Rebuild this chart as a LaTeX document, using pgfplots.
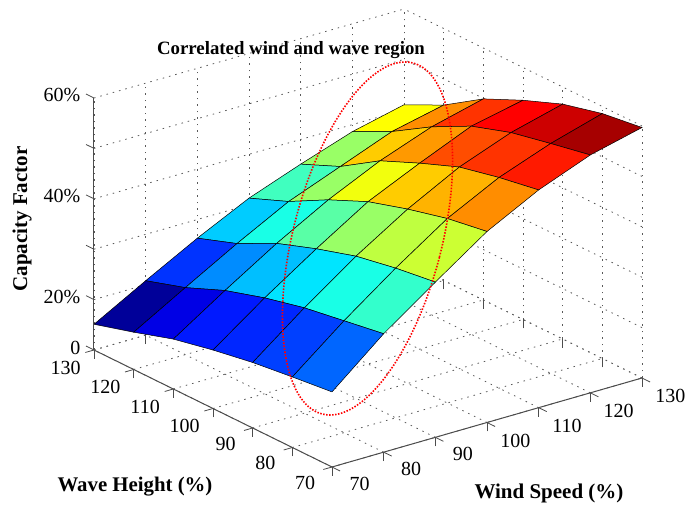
\documentclass[border=0pt]{standalone}
\usepackage{pgfplots}
\pgfplotsset{compat=1.18}
\usepackage{pgfplotstable}
\usepackage{fontspec}
\setmainfont{Liberation Serif}
\pgfplotstableread{
x y z c
70 70 24.9 1.8
80 70 33.5 3.4
90 70 40.8 4.6
100 70 47.9 5.9
110 70 53.2 6.8
120 70 57.2 7.7
130 70 59.7 8

70 80 24.0 1.5
80 80 32.2 3.2
90 80 39.7 4.5
100 80 46.6 5.6
110 80 51.8 6.6
120 80 55.6 7.4
130 80 58.6 8

70 90 23.0 1.3
80 90 30.9 2.8
90 90 38.2 4.2
100 90 44.6 5.4
110 90 50.0 6.4
120 90 53.9 7.0
130 90 56.6 8

70 100 21.6 1.2
80 100 29.0 2.5
90 100 35.8 3.7
100 100 42.2 4.9
110 100 46.9 5.8
120 100 51.3 6.6
130 100 53.5 8

70 110 19.9 0.8
80 110 26.6 2.1
90 110 33.0 3.2
100 110 38.7 4.2
110 110 43.5 5.4
120 110 47.3 5.9
130 110 49.9 8

70 120 17.4 0.2
80 120 23.3 1.4
90 120 29.1 2.6
100 120 34.5 3.5
110 120 38.5 4.2
120 120 42.5 5.0
130 120 44.8 8

70 130 15.1 0
80 130 20.8 0
90 130 26.3 0
100 130 31.3 0
110 130 35.1 0
120 130 38.6 0
130 130 41.0 0
}\surfdata
\begin{document}
\begin{tikzpicture}[x=1pt,y=1pt]
\path[use as bounding box] (0,0) rectangle (688,508);
\begin{axis}[
  at={(94pt,41pt)},anchor=south west,
  x={(5.1667pt,1.4833pt)},y={(-3.9667pt,1.95pt)},z={(0pt,5.04pt)},
  xmin=70,xmax=130,ymin=70,ymax=130,zmin=10,zmax=60,
  xtick={70,80,...,130},ytick={70,80,...,130},ztick={10,20,...,60},
  zticklabels={0,20\%,,40\%,,60\%},
  grid=major,
  3d box=background,
  major grid style={black!65,line width=0.8pt,dash pattern=on 1.5pt off 5pt},
  axis line style={draw=none},
  tick align=outside,
  xtick pos=left,ytick pos=left,ztick pos=left,
  major tick length=9pt,
  tick style={black!70,line width=0.8pt},
  ztick style={draw=none},
  tick label style={font=\fontsize{20}{22}\selectfont},
  xticklabel style={xshift=12pt,yshift=-1pt},
  yticklabel style={xshift=-9pt,yshift=-1pt},
  zticklabel style={xshift=-2pt,yshift=-3pt},
  /pgf/number format/assume math mode=true,
  clip=false,
  colormap={jetm}{rgb=(0,0,0.5) rgb=(0,0,1) rgb=(0,0.5,1) rgb=(0,1,1) rgb=(0.5,1,0.5) rgb=(1,1,0) rgb=(1,0.5,0) rgb=(1,0,0) rgb=(0.5,0,0)},
  point meta min=0,point meta max=8,
]
\addplot3[surf,shader=flat corner,draw=black,line width=0.5pt,z buffer=sort,point meta=explicit]
  table[x=x,y=y,z=z,meta=c]{\surfdata};
\draw[black!70,line width=1pt] (axis cs:70,130,10)--(axis cs:70,70,10)--(axis cs:130,70,10);
\draw[black!70,line width=1pt] (axis cs:70,130,10)--(axis cs:70,130,60);
\pgfplotsinvokeforeach{10,20,30,40,50,60}{
  \draw[black!70,line width=0.8pt] (axis cs:70,130,#1)--(axis cs:70,132,#1);
}
\end{axis}
\draw[red,line width=1.6pt,dash pattern=on 1.5pt off 1.5pt,rotate around={-14.5:(367.5,269.5)}]
  (367.5,269.5) ellipse [x radius=74.3,y radius=181.3];
\node[font=\fontsize{18.8}{22}\selectfont\bfseries] at (291,458) {Correlated wind and wave region};
\node[font=\fontsize{20.8}{24}\selectfont\bfseries] at (135,21) {Wave Height (\%)};
\node[font=\fontsize{21}{24}\selectfont\bfseries] at (549,15) {Wind Speed (\%)};
\node[font=\fontsize{21}{24}\selectfont\bfseries,rotate=90] at (22,289) {Capacity Factor};
\end{tikzpicture}
\end{document}
